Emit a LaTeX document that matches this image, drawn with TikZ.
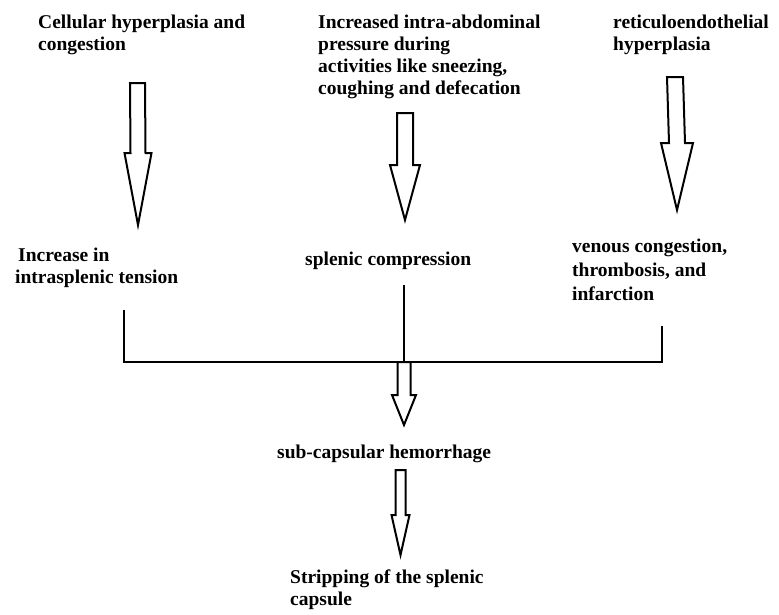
\documentclass[tikz,border=0pt]{standalone}
\usepackage{fontspec}
\setmainfont{Liberation Serif}
\usetikzlibrary{calc}
\begin{document}
\begin{tikzpicture}[x=1pt,y=-1pt,
        txt/.style={anchor=base west,inner sep=0pt,align=left,font=\bfseries\fontsize{19.5}{22}\selectfont},
        fat/.style={line width=2pt,line join=miter},
        joint/.style={line width=2.2pt}]
        \useasboundingbox (0,0) rectangle (779,614);
        %% causes (base = last line)
        \node[txt] (hyper) at (38,50) {Cellular hyperplasia and\\congestion};
        \node[txt] (press) at (318,94) {Increased intra-abdominal\\pressure during\\activities like sneezing,\\coughing and defecation};
        \node[txt] (retic) at (613,50) {reticuloendothelial\\hyperplasia};
        %% effects
        \node[txt] (tension) at (15,283) {\hspace{3pt}Increase in\\intrasplenic tension};
        \node[txt] (compr) at (305,265) {splenic compression};
        \node[txt,font=\bfseries\fontsize{19.5}{24}\selectfont] (venous) at (572,300) {venous congestion,\\thrombosis, and\\infarction};
        %% outcome
        \node[txt] (hemo) at (277,458) {sub-capsular hemorrhage};
        \node[txt] (strip) at (290,605) {Stripping of the splenic\\capsule};
        %% arrow ends
        \coordinate (a1top) at (137.5,83);  \coordinate (a1tip) at (138,225);
        \coordinate (a2top) at (405,113);   \coordinate (a2tip) at (405,220);
        \coordinate (a3top) at (675,77);    \coordinate (a3tip) at (677,210);
        \coordinate (tenL) at (124,310);
        \coordinate (compT) at (404,285);
        \coordinate (infR) at (662,326);
        \coordinate (joinM) at (404,362);
        \coordinate (a4tip) at (404,425);
        \coordinate (a5top) at (400.5,470); \coordinate (a5tip) at (400.5,555);
        %% joining bracket
        \draw[joint] (tenL) |- (joinM) -| (infR);
        \draw[joint] (compT) -- (joinM);
        %% hollow arrows
        \foreach \s/\e/\hl/\sw/\hw in {a1top/a1tip/72/7.5/13.5,a2top/a2tip/55/8/15,a3top/a3tip/67/8/16,joinM/a4tip/30/6.5/12,a5top/a5tip/40/5/9} {
            \draw[fat,fill=white] ($(\s)+(-\sw,0)$) -- ($(\e)+(-\sw,-\hl)$) -- ($(\e)+(-\hw,-\hl)$) -- (\e)
                -- ($(\e)+(\hw,-\hl)$) -- ($(\e)+(\sw,-\hl)$) -- ($(\s)+(\sw,0)$) -- cycle;
        }
    \end{tikzpicture}
\end{document}
